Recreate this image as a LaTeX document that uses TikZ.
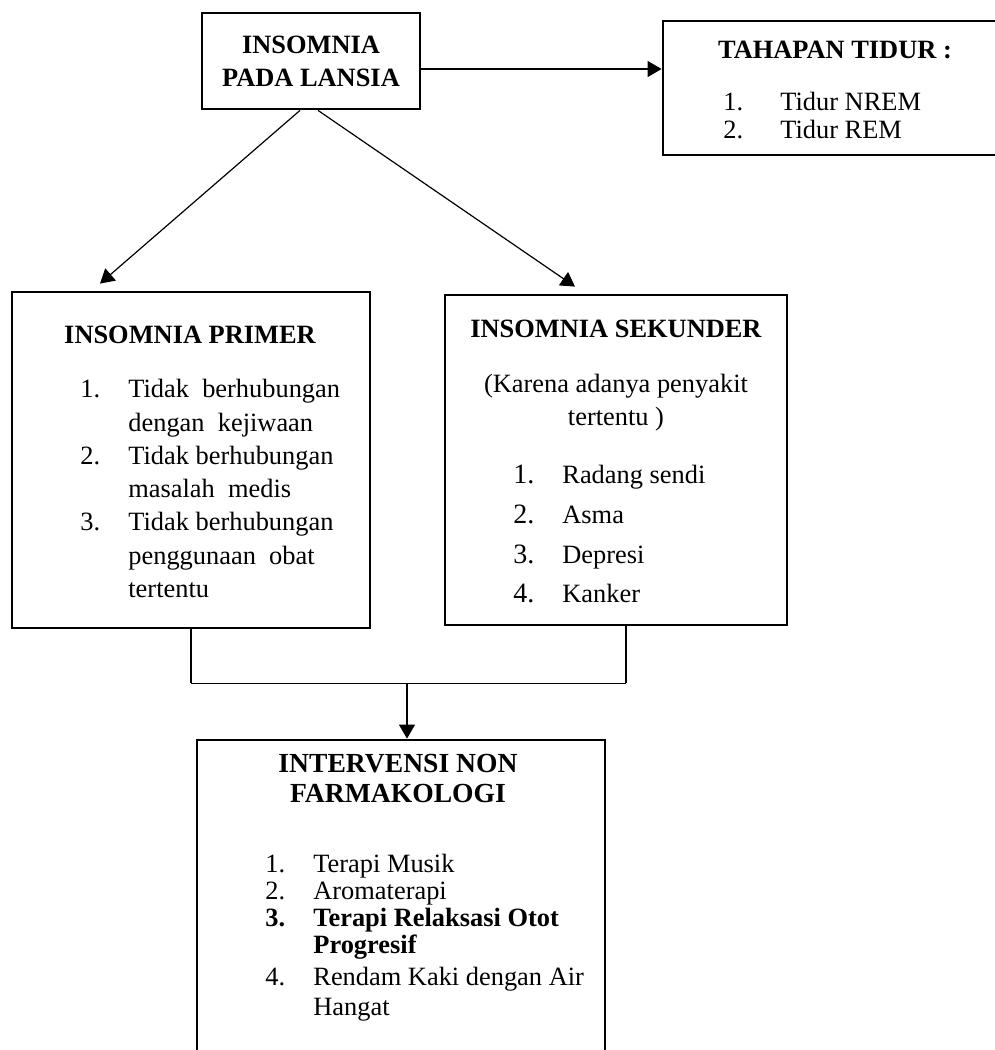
\documentclass[tikz,border=0pt]{standalone}
\usepackage{fontspec}
\setmainfont{Liberation Serif}
\usetikzlibrary{arrows.meta}

\begin{document}
\begin{tikzpicture}[
  x=0.5pt, y=-0.5pt,
  kotak/.style={draw=black, line width=1.4pt, inner sep=0pt},
  judul/.style={font=\fontsize{13.2pt}{16.5pt}\selectfont\bfseries, inner sep=0pt},
  isi/.style={font=\fontsize{13.2pt}{16.65pt}\selectfont, inner sep=0pt, align=left},
  panah/.style={line width=0.6pt, -{Triangle[length=7pt, width=8pt]}},
  garis/.style={line width=0.6pt}
]
  \useasboundingbox (0,0) rectangle (995,1050);
  \clip (0,0) rectangle (995,1050);

  % ==========================================
  % 1. KOTAK-KOTAK
  % ==========================================
  \node[kotak, judul, align=center, minimum width=109pt, minimum height=48pt] (lansia) at (311,61) {INSOMNIA\\PADA LANSIA};
  \node[kotak, minimum width=170pt, minimum height=67pt] (tahapan) at (833,88) {};
  \node[kotak, minimum width=179pt, minimum height=168pt] (primer) at (191,460) {};
  \node[kotak, minimum width=171pt, minimum height=165pt] (sekunder) at (616,460) {};
  \node[kotak, minimum width=204pt, minimum height=165pt] (intervensi) at (401,905) {};

  % ==========================================
  % 2. ISI KOTAK
  % ==========================================
  % tahapan tidur
  \node[judul, anchor=base] (tahapantitle) at (835,58) {TAHAPAN TIDUR :};
  \node[isi, font=\fontsize{13.2pt}{14pt}\selectfont, anchor=north west] (tahapanlist) at (723,92)
    {\makebox[28.5pt][l]{1.}Tidur NREM\\
     \makebox[28.5pt][l]{2.}Tidur REM};

  % insomnia primer
  \node[judul, anchor=base] (primertitle) at (190,343) {INSOMNIA PRIMER};
  \node[isi, anchor=north west] (primerlist) at (80,379)
    {\makebox[24pt][l]{1.}Tidak\ \ berhubungan\\
     \hspace*{24pt}dengan\ \ kejiwaan\\
     \makebox[24pt][l]{2.}Tidak berhubungan\\
     \hspace*{24pt}masalah\ \ medis\\
     \makebox[24pt][l]{3.}Tidak berhubungan\\
     \hspace*{24pt}penggunaan\ \ obat\\
     \hspace*{24pt}tertentu};

  % insomnia sekunder
  \node[judul, anchor=base] (sekundertitle) at (616,337) {INSOMNIA SEKUNDER};
  \node[isi, font=\fontsize{13.2pt}{16.5pt}\selectfont, align=center, anchor=north] (sekunderket) at (616,374)
    {(Karena adanya penyakit\\tertentu )};
  \node[isi, font=\fontsize{13.2pt}{19.85pt}\selectfont, anchor=north west] (sekunderlist) at (513,465)
    {\makebox[24.5pt][l]{\fontsize{14pt}{14pt}\selectfont 1.}Radang sendi\\
     \makebox[24.5pt][l]{\fontsize{14pt}{14pt}\selectfont 2.}Asma\\
     \makebox[24.5pt][l]{\fontsize{14pt}{14pt}\selectfont 3.}Depresi\\
     \makebox[24.5pt][l]{\fontsize{14pt}{14pt}\selectfont 4.}Kanker};

  % intervensi non farmakologi
  \node[judul, font=\fontsize{13.8pt}{15pt}\selectfont\bfseries, align=center, anchor=north] (intervensititle) at (398,754)
    {INTERVENSI NON\\FARMAKOLOGI};
  \node[isi, font=\fontsize{13.2pt}{13.5pt}\selectfont, anchor=north west] (intervensilist) at (265,854)
    {\makebox[24pt][l]{1.}Terapi Musik\\
     \makebox[24pt][l]{2.}Aromaterapi\\
     \textbf{\makebox[24pt][l]{3.}Terapi Relaksasi Otot}\\
     \hspace*{24pt}\textbf{Progresif}\\[2.5pt]
     \makebox[24pt][l]{4.}Rendam Kaki dengan Air\\[1.5pt]
     \hspace*{24pt}Hangat};

  % ==========================================
  % 3. PANAH DAN GARIS
  % ==========================================
  \coordinate (tahapanin) at ([yshift=-4pt]lansia.east);
  \draw[panah] (tahapanin) -- (tahapanin -| tahapan.west);
  \draw[panah] ([xshift=-5.5pt]lansia.south) -- ([xshift=-45.5pt, yshift=3.5pt]primer.north);
  \draw[panah] ([xshift=3.5pt]lansia.south) -- ([xshift=-20.5pt, yshift=3.5pt]sekunder.north);

  \draw[garis] (primer.south) -- ++(0,54) coordinate (joinleft);
  \draw[garis] ([xshift=5pt]sekunder.south) -- ++(0,57) coordinate (joinright);
  \draw[garis] (joinleft) -- (joinright);
  \coordinate (drop) at ([xshift=3pt]intervensi.north);
  \draw[panah] (drop |- joinleft) -- (drop);

\end{tikzpicture}
\end{document}
